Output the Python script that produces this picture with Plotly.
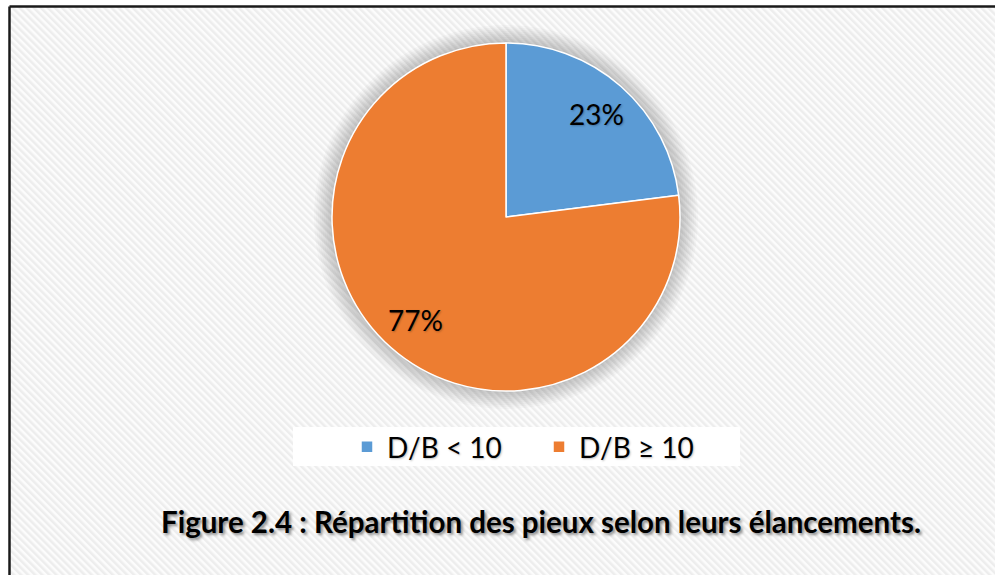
import base64
import math
import plotly.graph_objects as go

# Slenderness ratio distribution of the piles
categories = ["D/B < 10", "D/B ≥ 10"]
shares = [23, 77]
slice_colors = ["#5B9BD5", "#ED7D31"]
title_text = "Figure 2.4 : Répartition des pieux selon leurs élancements."

W, H = 995, 575


def px_x(x):
    return x / W


def px_y(y):
    return 1 - y / H


# Diagonal hatched backdrop inside the frame
frame_l, frame_t = 10, 7
bw, bh = W - frame_l, H - frame_t
svg = (
    f'<svg xmlns="http://www.w3.org/2000/svg" width="{bw}" height="{bh}">'
    '<defs><pattern id="p" width="5" height="5" patternUnits="userSpaceOnUse" '
    'patternTransform="rotate(-45)">'
    '<rect width="5" height="5" fill="#fcfcfc"/>'
    '<rect width="2.5" height="5" fill="#ededed"/>'
    '</pattern></defs>'
    '<rect width="100%" height="100%" fill="url(#p)"/></svg>'
)
bg_src = "data:image/svg+xml;base64," + base64.b64encode(svg.encode()).decode()

# Pie placement (pixels)
cx, cy, r = 506, 217, 174

fig = go.Figure(
    go.Pie(
        labels=categories,
        values=shares,
        marker=dict(colors=slice_colors, line=dict(color="white", width=1.5)),
        sort=False,
        direction="clockwise",
        rotation=0,
        textinfo="none",
        hoverinfo="label+percent",
        domain=dict(x=[px_x(cx - r), px_x(cx + r)], y=[px_y(cy + r), px_y(cy - r)]),
    )
)

# Percentage labels placed along each slice's mid-angle
label_font = dict(family="Lato", size=28, color="black",
                  shadow="1px 1px 2px rgba(0,0,0,0.25)")
annotations = []
total = sum(shares)
cum = 0.0
for v in shares:
    mid = (cum + v / 2) / total * 2 * math.pi
    cum += v
    lx = cx + 0.79 * r * math.sin(mid)
    ly = cy - 0.79 * r * math.cos(mid)
    annotations.append(dict(
        text=f"{round(v / total * 100)}%", xref="paper", yref="paper",
        x=px_x(lx), y=px_y(ly), xanchor="center", yanchor="middle",
        showarrow=False, font=label_font,
    ))

annotations.append(dict(
    text=f"<b>{title_text}</b>",
    xref="paper", yref="paper",
    x=px_x(541), y=px_y(521), xanchor="center", yanchor="middle",
    showarrow=False,
    font=dict(family="Lato", size=29.5, color="black",
              shadow="2px 2px 3px rgba(0,0,0,0.45)"),
))

shapes = []
# soft glow around the pie
for i in range(10):
    rr = r + 18 - i * 2
    shapes.append(dict(
        type="circle", xref="paper", yref="paper", layer="below",
        x0=px_x(cx - rr), x1=px_x(cx + rr), y0=px_y(cy + rr), y1=px_y(cy - rr),
        fillcolor="rgba(0,0,0,0.025)", line=dict(width=0),
    ))
# white legend band
shapes.append(dict(
    type="rect", xref="paper", yref="paper", layer="below",
    x0=px_x(293), x1=px_x(740), y0=px_y(466), y1=px_y(427),
    fillcolor="white", line=dict(width=0),
))
# frame border (top and left edges)
shapes.append(dict(
    type="line", xref="paper", yref="paper",
    x0=px_x(9.5), x1=1.0, y0=px_y(6.5), y1=px_y(6.5),
    line=dict(color="#1a1a1a", width=2.5),
))
shapes.append(dict(
    type="line", xref="paper", yref="paper",
    x0=px_x(9.5), x1=px_x(9.5), y0=px_y(6.5), y1=0.0,
    line=dict(color="#1a1a1a", width=2.5),
))

fig.update_layout(
    width=W,
    height=H,
    margin=dict(l=0, r=0, t=0, b=0),
    paper_bgcolor="white",
    plot_bgcolor="white",
    images=[dict(
        source=bg_src, xref="paper", yref="paper",
        x=px_x(frame_l), y=px_y(frame_t), sizex=bw / W, sizey=bh / H,
        xanchor="left", yanchor="top", sizing="stretch", layer="below",
    )],
    shapes=shapes,
    showlegend=True,
    legend=dict(
        orientation="h",
        x=px_x(347), xanchor="left",
        y=px_y(447), yanchor="middle",
        bgcolor="rgba(0,0,0,0)",
        font=dict(family="Lato", size=28, color="black",
                  shadow="1px 1px 2px rgba(0,0,0,0.25)"),
        itemwidth=30,
        entrywidth=147,
        entrywidthmode="pixels",
        traceorder="normal",
    ),
    annotations=annotations,
)

fig.write_html("out.html")
